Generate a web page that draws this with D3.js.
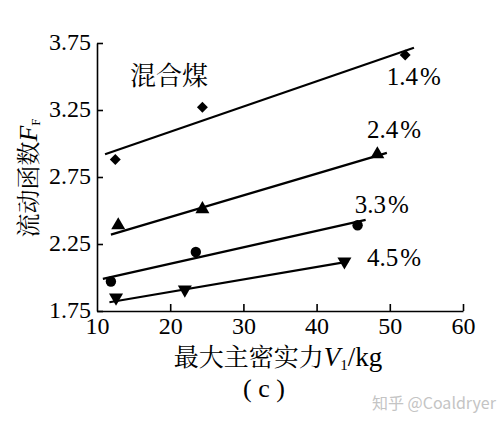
<!DOCTYPE html>
<html>
<head>
<meta charset="utf-8">
<script src="https://cdn.jsdelivr.net/npm/d3@7"></script>
<style>
  html, body { margin: 0; padding: 0; background: #fff; }
  svg { display: block; }
  .serif { font-family: "Liberation Serif", "Tinos", serif; }
  .cjk { font-family: "Noto Serif CJK SC", "Noto Sans CJK SC", serif; }
</style>
</head>
<body>
<svg id="chart" width="503" height="427"></svg>
<script>
// ---- data ----
const xTicks = [10, 20, 30, 40, 50, 60];
const yTicks = [1.75, 2.25, 2.75, 3.25, 3.75];
const seriesNames = ["1.4%", "2.4%", "3.3%", "4.5%"];
const seriesSymbols = ["diamond", "triangle", "circle", "triangleDown"];

const pts14 = [[12.5, 2.88], [24.4, 3.27], [52.1, 3.66]];
const pts24 = [[12.9, 2.39], [24.4, 2.51], [48.3, 2.92]];
const pts33 = [[11.9, 1.97], [23.5, 2.19], [45.6, 2.39]];
const pts45 = [[12.6, 1.85], [22.0, 1.91], [43.8, 2.12]];

const fit14 = [[11.1, 2.92], [53.3, 3.715]];
const fit24 = [[11.9, 2.32], [49.6, 2.93]];
const fit33 = [[10.8, 1.99], [46.7, 2.43]];
const fit45 = [[11.7, 1.815], [44.3, 2.118]];

// label anchors in data units
const labelAt = [[49.6, 3.437], [46.9, 3.041], [45.2, 2.481], [46.9, 2.086]];

const points = [pts14, pts24, pts33, pts45];
const fits = [fit14, fit24, fit33, fit45];

// ---- layout ----
const svg = d3.select("#chart");
const mLeft = 97, mRight = 463, mTop = 43, mBottom = 311;

const x = d3.scaleLinear().domain([10, 60]).range([mLeft, mRight]);
const y = d3.scaleLinear().domain([1.75, 3.75]).range([mBottom, mTop]);

// axes
const xAxis = d3.axisBottom(x).tickValues(xTicks).tickSize(-7).tickSizeOuter(0).tickPadding(6);
const yAxis = d3.axisLeft(y).tickValues(yTicks).tickSize(-6).tickSizeOuter(0).tickPadding(6)
  .tickFormat(d3.format(".2f"));

const gx = svg.append("g").attr("transform", `translate(0,${mBottom})`).call(xAxis);
const gy = svg.append("g").attr("transform", `translate(${mLeft},0)`).call(yAxis);

[gx, gy].forEach(g => {
  g.attr("font-family", null).attr("font-size", null);
  g.select(".domain").attr("stroke", "#000").attr("stroke-width", 1.6);
  g.selectAll(".tick line").attr("stroke", "#000").attr("stroke-width", 1.6);
  g.selectAll(".tick text").attr("fill", "#000").attr("class", "serif")
    .style("font-size", "24px");
});
gx.select(".tick:first-of-type line").remove();
gy.selectAll(".tick text").attr("dy", "0.28em");

// fit lines
const line = d3.line().x(d => x(d[0])).y(d => y(d[1]));
svg.append("g").selectAll("path").data(fits).join("path")
  .attr("d", line).attr("fill", "none").attr("stroke", "#000").attr("stroke-width", 2.2);

// markers
const symMap = {
  diamond: d3.symbolSquare, triangle: d3.symbolTriangle,
  circle: d3.symbolCircle, triangleDown: d3.symbolTriangle
};
const rotMap = { diamond: 45, triangle: 0, circle: 0, triangleDown: 180 };
const sizeMap = { diamond: 60, triangle: 85, circle: 85, triangleDown: 85 };
points.forEach((pts, i) => {
  const s = seriesSymbols[i];
  const sym = d3.symbol().type(symMap[s]).size(sizeMap[s]);
  svg.append("g").selectAll("path").data(pts).join("path")
    .attr("d", sym)
    .attr("transform", d => `translate(${x(d[0])},${y(d[1])}) rotate(${rotMap[s]})`)
    .attr("fill", "#000");
});

// series labels
svg.append("g").selectAll("text").data(seriesNames).join("text")
  .attr("class", "serif")
  .attr("x", (d, i) => x(labelAt[i][0]))
  .attr("y", (d, i) => y(labelAt[i][1]))
  .style("font-size", "25px")
  .attr("fill", "#000")
  .each(function(d) {
    const t = d3.select(this);
    t.append("tspan").text(d.replace("%", ""));
    t.append("tspan").attr("dx", 2).text("%");
  });

// 混合煤
svg.append("text").attr("class", "cjk").attr("x", 130).attr("y", 85)
  .style("font-size", "26px").attr("fill", "#000").text("混合煤");

// x label
const xl = svg.append("text").attr("x", 278).attr("y", 366).attr("text-anchor", "middle")
  .attr("fill", "#000");
xl.append("tspan").attr("class", "cjk").style("font-size", "25px").text("最大主密实力");
xl.append("tspan").attr("class", "serif").style("font-size", "27px").style("font-style", "italic").text("V");
xl.append("tspan").attr("class", "serif").style("font-size", "15px").attr("dy", 4).text("1");
xl.append("tspan").attr("class", "serif").style("font-size", "27px").attr("dy", -4).text("/kg");

// (c)
svg.append("text").attr("class", "serif").attr("x", 264).attr("y", 397).attr("text-anchor", "middle")
  .style("font-size", "26px").attr("fill", "#000").text("( c )");

// y label
const yl = svg.append("text").attr("transform", "translate(37,178) rotate(-90)")
  .attr("text-anchor", "middle").attr("fill", "#000");
yl.append("tspan").attr("class", "cjk").style("font-size", "24px").text("流动函数");
yl.append("tspan").attr("class", "serif").style("font-size", "26px").style("font-style", "italic").text("F");
yl.append("tspan").attr("class", "serif").style("font-size", "13px").attr("dy", 3).text("F");

// watermark
svg.append("text").attr("x", 372).attr("y", 409)
  .style("font-family", "'Noto Sans CJK SC', sans-serif").style("font-size", "16px")
  .attr("fill", "#c4c4c4").text("知乎 @Coaldryer");
</script>
</body>
</html>
